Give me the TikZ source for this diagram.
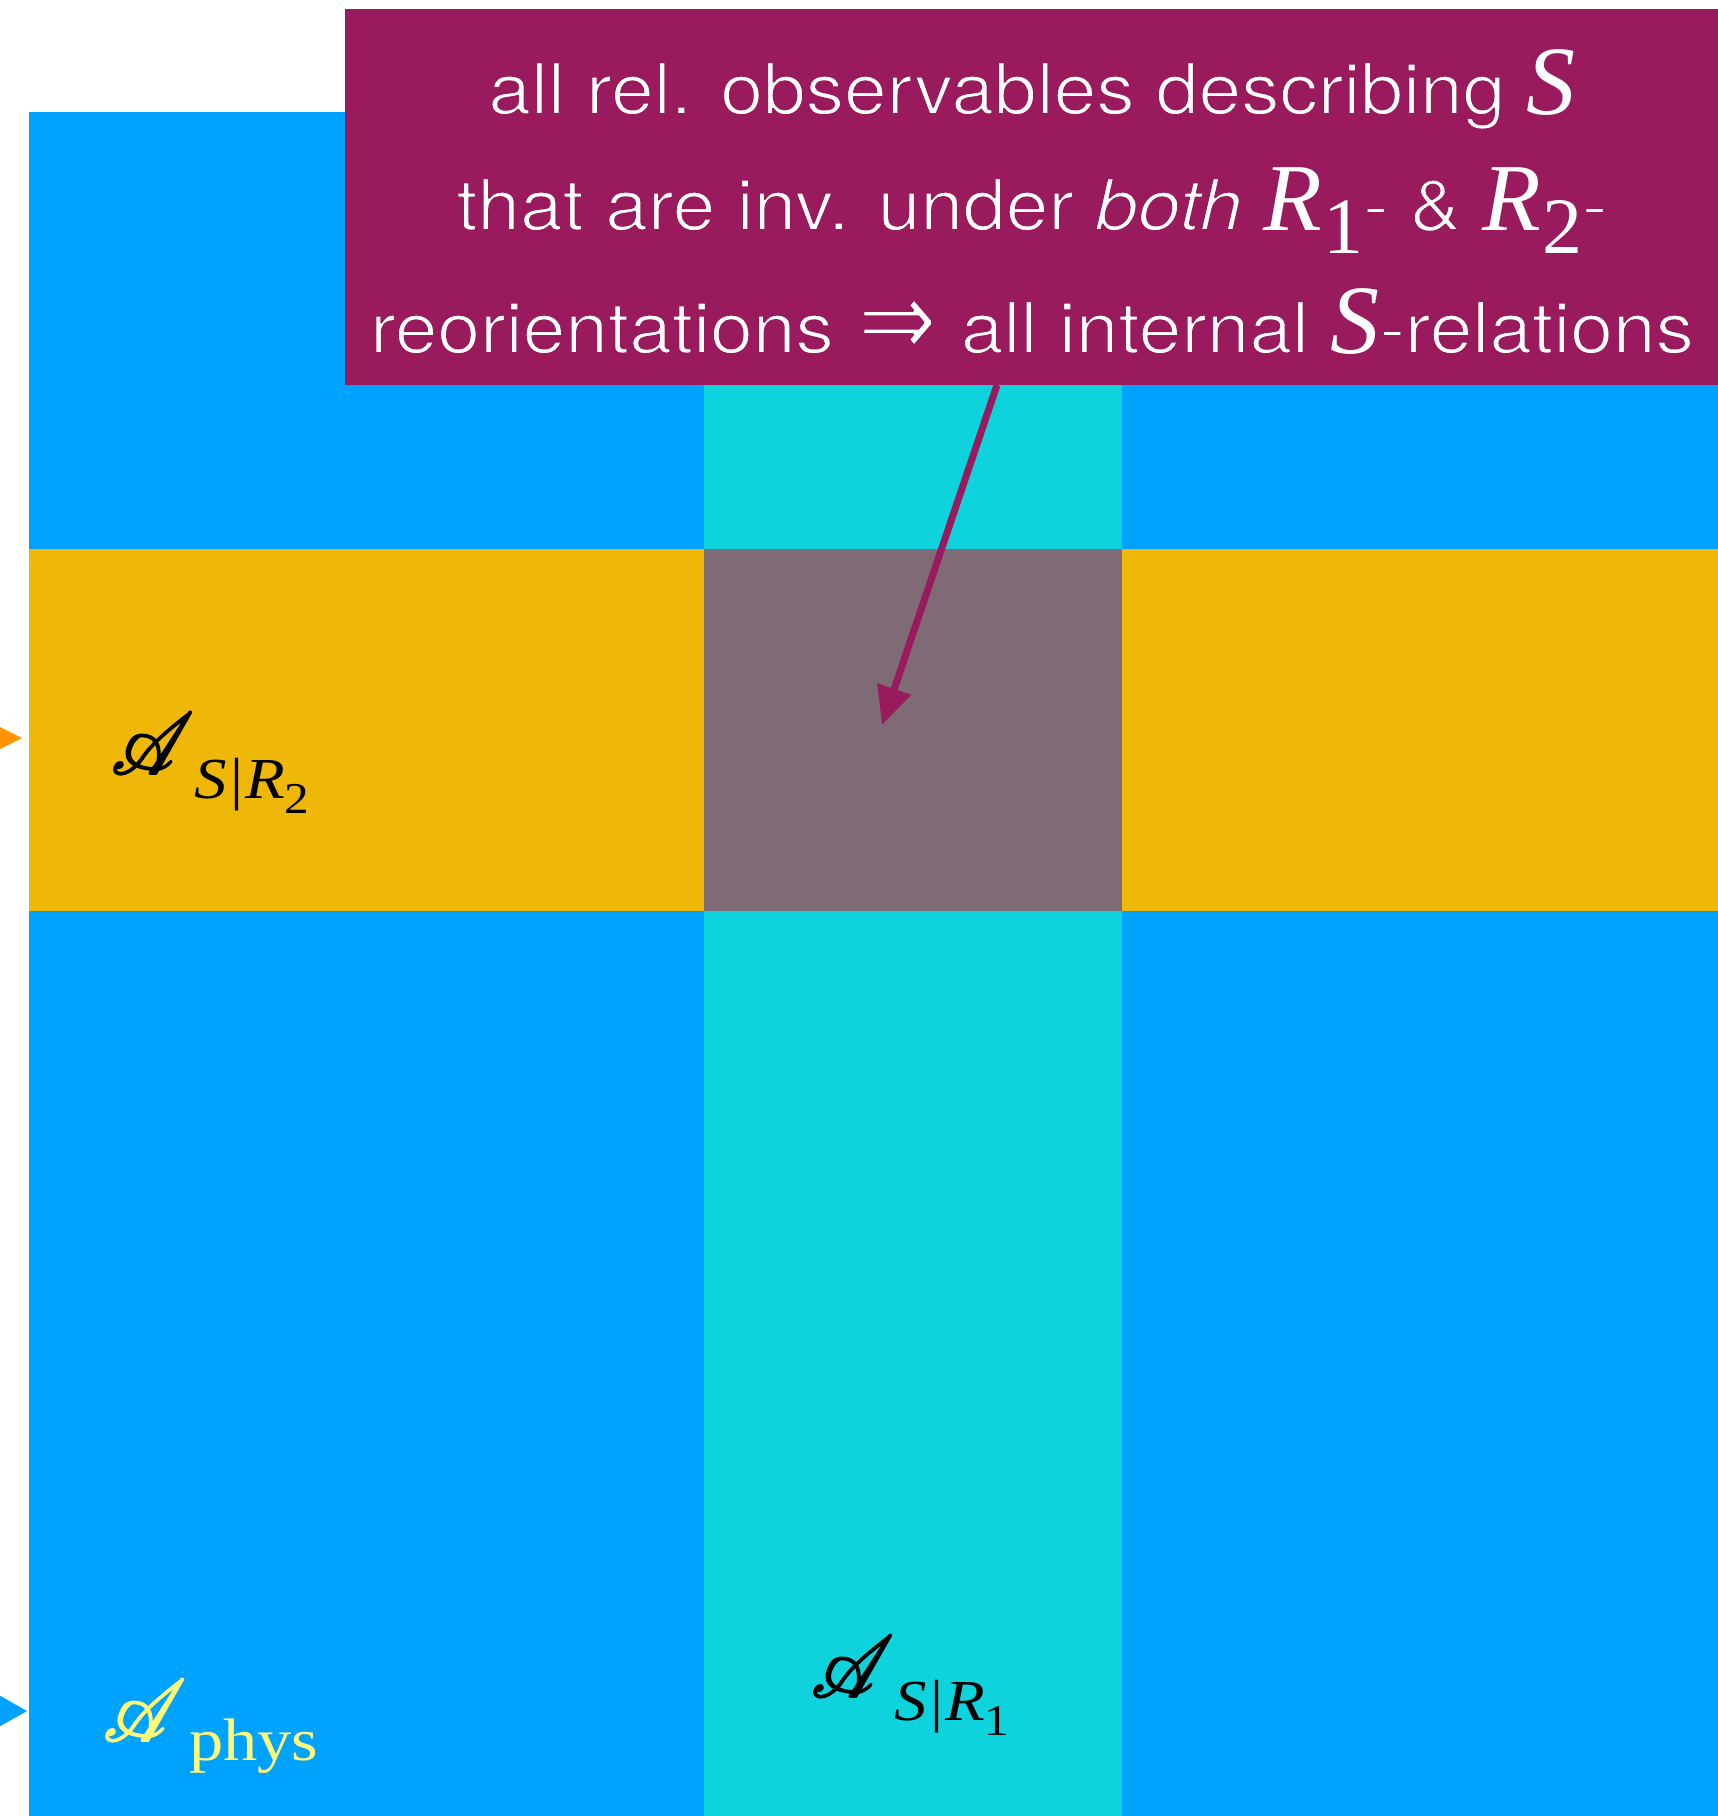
\documentclass[tikz,border=0pt]{standalone}
\usepackage{fontspec}
\setmainfont{TeX Gyre Heros}[FakeStretch=1.08]
\newfontfamily\tms{Liberation Serif}
\newfontfamily\tmsw{Liberation Serif}[FakeStretch=1.12]
\newfontfamily\tmsp{Liberation Serif}[FakeStretch=1.14]
\newfontfamily\djv{DejaVu Sans}
\usepackage{graphicx}
\usepackage{mathrsfs}
\DeclareFontFamily{U}{rsfs}{\skewchar\font127 }
\DeclareFontShape{U}{rsfs}{m}{n}{<-6> rsfs5 <6-8> rsfs7 <8-> rsfs10}{}
\usetikzlibrary{arrows.meta}
\definecolor{blueA}{HTML}{00A2FF}
\definecolor{cyanC}{HTML}{0FD3DC}
\definecolor{goldG}{HTML}{EFB808}
\definecolor{grayM}{HTML}{7E6B76}
\definecolor{purP}{HTML}{9A1A5E}
\definecolor{orangeO}{HTML}{FF9300}
\definecolor{yellowY}{HTML}{FFF97A}
% thin the sans text by stroking its outline in the box colour
\newcommand\lightOn{\special{pdf:code 2 Tr 1.8 w 1 j 0.604 0.102 0.369 RG}}
\newcommand\lightOff{\special{pdf:code 0 Tr}}
\newcommand\bigS{\lightOff{\fontsize{98}{98}\selectfont\tms\itshape S}\lightOn}
\newcommand\bigR[1]{\lightOff{\fontsize{96}{96}\selectfont\tms\itshape R}\hspace{1pt}{\fontsize{80}{80}\selectfont\tms\raisebox{-23pt}{#1}}\lightOn}
\newcommand\scrA{\special{pdf:code 2 Tr 1.8 w}\scalebox{0.92}[1]{\fontsize{87}{87}\selectfont$\mathscr{A}$}\special{pdf:code 0 Tr}}
\newcommand\subSR[1]{{\tmsw\fontsize{58}{58}\selectfont\itshape S\hspace{4pt}\upshape|\hspace{2pt}\itshape R\hspace{-1pt}\fontsize{44}{44}\selectfont\upshape\raisebox{-15pt}{#1}}}
\newcommand\dblarrow{\hspace{24pt}\raisebox{-4pt}{\resizebox{79pt}{58pt}{\lightOn\djv ⇒}}\lightOn\hspace{24pt}}
\begin{document}
\begin{tikzpicture}[x=1pt,y=-1pt,
  linetext/.style={anchor=base, text=white, inner sep=0pt, font=\fontsize{71}{85}\selectfont},
  lbl/.style={anchor=base west, inner sep=0pt},
  pointer/.style={draw=purP, line width=7pt, -{Triangle[length=38pt,width=34pt]}}]
\useasboundingbox (0,0) rectangle (1718,1816);
\clip (0,0) rectangle (1718,1816);
% background field
\fill[blueA] (29,112) rectangle (1718,1816);
\fill[cyanC] (704,112) rectangle (1122,1816);
\fill[goldG] (29,549) rectangle (1718,911);
\node[fill=grayM, anchor=north west, inner sep=0pt, minimum width=418pt, minimum height=362pt] (cell) at (704,549) {};
% incoming arrow tips on the left edge
\fill[orangeO] (-12,721) -- (22,738) -- (-12,755) -- cycle;
\fill[blueA] (-12,1689) -- (27,1711) -- (-12,1733) -- cycle;
% note box
\node[fill=purP, anchor=north west, inner sep=0pt, minimum width=1373pt, minimum height=376pt] (note) at (345,9) {};
\node[linetext] (l1) at (1032,114) {\lightOn all rel. observables describing \bigS\lightOff};
\node[linetext] (l2) at (1032,230) {\lightOn that are inv. under \textit{both} \bigR{1}- \& \bigR{2}-\lightOff};
\node[linetext] (l3) at (1032,353) {\lightOn reorientations\dblarrow all internal \bigS-relations\lightOff};
% pointer
\coordinate (a0) at (997,385);
\coordinate (a1) at (882,725);
\draw[pointer] (a0) -- (a1);
% labels
\node[lbl] (A2) at (111,774) {\scrA};
\node[lbl] (A2s) at (194,798) {\subSR{2}};
\node[lbl] (A1) at (811,1697) {\scrA};
\node[lbl] (A1s) at (894,1720) {\subSR{1}};
\node[lbl, text=yellowY] (Ap) at (103,1741) {\scrA};
\node[lbl, text=yellowY] (Aps) at (189,1760) {\tmsp\fontsize{60}{60}\selectfont phys};
\end{tikzpicture}
\end{document}
